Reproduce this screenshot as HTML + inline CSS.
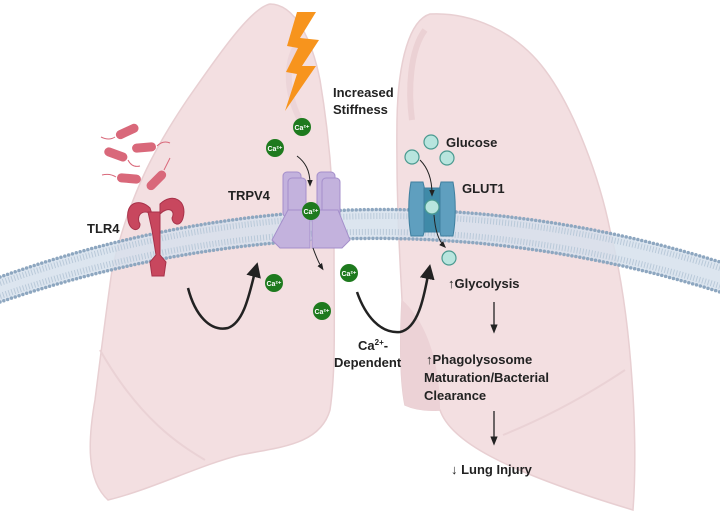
<!DOCTYPE html>
<html><head><meta charset="utf-8"><style>
html,body{margin:0;padding:0;background:#fff}
svg{display:block}
text{font-family:"Liberation Sans",sans-serif;font-weight:bold;fill:#222}
</style></head><body>
<svg width="720" height="514" viewBox="0 0 720 514" xmlns="http://www.w3.org/2000/svg">
<defs>
<marker id="ah" viewBox="0 0 10 10" refX="6" refY="5" markerWidth="6" markerHeight="6" orient="auto"><path d="M0,0 L10,5 L0,10 z" fill="#222"/></marker>
<marker id="ahs" viewBox="0 0 10 10" refX="6" refY="5" markerWidth="7" markerHeight="7" orient="auto"><path d="M0,1 L10,5 L0,9 z" fill="#222"/></marker>
</defs>
<!-- left lung -->
<path d="M270,4 C250,8 215,60 187,100 C160,140 130,190 112,270 C105,320 100,360 95,400 C88,440 86,480 108,500 C150,490 200,465 240,455 C280,447 320,445 330,410 C336,370 334,320 334,250 C334,200 330,140 320,80 C312,40 295,4 270,4 Z" fill="#f3dfe1" stroke="#e8cfd2" stroke-width="1.5"/>
<path d="M100,350 C140,420 180,445 205,460" fill="none" stroke="#ead2d5" stroke-width="2"/>
<path d="M300,40 C285,60 285,90 300,120" fill="none" stroke="#e8cfd3" stroke-width="6" opacity="0.6"/>
<!-- right lung -->
<path d="M430,14 C410,20 398,60 397,120 C396,200 400,260 402,300 C400,340 400,380 405,405 C420,412 437,410 440,410 C450,440 500,470 633,510 C636,470 635,420 632,380 C628,320 620,270 610,230 C600,180 575,110 545,70 C515,30 470,12 430,14 Z" fill="#f3dfe1" stroke="#e8cfd2" stroke-width="1.5"/>
<path d="M402,300 C425,320 440,360 440,410 C430,412 415,410 405,405 C400,380 400,340 402,300 Z" fill="#ecd2d6"/>
<path d="M503,435 C540,420 580,400 625,370" fill="none" stroke="#ead2d5" stroke-width="2"/>
<path d="M425,30 C410,50 408,90 412,120" fill="none" stroke="#e6c8cc" stroke-width="6" opacity="0.6"/>
<!-- membrane -->
<path d="M0,277 Q360,150 720,262 L720,292 Q360,180 0,302 Z" fill="#d6e1ec" opacity="0.85"/>
<path d="M0,283 Q360,157 720,268" fill="none" stroke="#b9c9d9" stroke-width="6" stroke-dasharray="1 2"/>
<path d="M0,296 Q360,173 720,286" fill="none" stroke="#b9c9d9" stroke-width="6" stroke-dasharray="1 2"/>
<path d="M0,277 Q360,150 720,262" fill="none" stroke="#8ea7c0" stroke-width="3.5" stroke-linecap="round" stroke-dasharray="0 4"/>
<path d="M0,302 Q360,180 720,292" fill="none" stroke="#8ea7c0" stroke-width="3.5" stroke-linecap="round" stroke-dasharray="0 4"/>
<!-- lightning -->
<polygon points="297,12 316,12 300,38 319,40 302,66 316,66 285,111 297,74 286,72 298,48 287,46" fill="#f7941d"/>
<text x="333" y="97" font-size="13">Increased</text>
<text x="333" y="114" font-size="13">Stiffness</text>
<!-- bacteria -->
<g fill="#d9687a" stroke="none">
<rect x="115" y="127" width="24" height="9" rx="4.5" transform="rotate(-25 127 131)"/>
<rect x="104" y="150" width="24" height="9" rx="4.5" transform="rotate(20 116 154)"/>
<rect x="132" y="143" width="24" height="9" rx="4.5" transform="rotate(-5 144 147)"/>
<rect x="117" y="174" width="24" height="9" rx="4.5" transform="rotate(5 129 178)"/>
<rect x="144" y="176" width="24" height="9" rx="4.5" transform="rotate(-45 156 180)"/>
</g>
<g fill="none" stroke="#d9687a" stroke-width="1">
<path d="M115,137 q-6,4 -14,0"/><path d="M157,146 q6,-6 13,-3"/><path d="M128,160 q4,8 12,6"/><path d="M116,177 q-6,-4 -14,-2"/><path d="M164,170 q3,-6 6,-12"/>
</g>
<!-- TLR4 -->
<g fill="#c8475e" stroke="#a8324a" stroke-width="1">
<path d="M150,208 C140,198 125,202 128,220 C130,232 140,232 140,224 C136,218 140,208 152,214 Z"/>
<path d="M160,204 C172,192 188,200 183,218 C180,228 172,224 172,218 C176,210 168,206 160,214 Z"/>
<path d="M148,212 L160,212 L160,255 L166,262 L164,276 L152,276 L150,262 L156,255 L152,230 Z"/>
</g>
<text x="87" y="233" font-size="13">TLR4</text>
<!-- TRPV4 -->
<g fill="#c3b2dd" stroke="#a48fcb" stroke-width="1">
<rect x="283" y="172" width="18" height="45" rx="4"/>
<rect x="317" y="172" width="18" height="45" rx="4"/>
<rect x="288" y="178" width="18" height="45" rx="4"/>
<rect x="322" y="178" width="18" height="45" rx="4"/>
<path d="M288,210 L310,210 L310,248 L280,248 L272,240 Z"/>
<path d="M312,210 L338,210 L350,240 L342,248 L312,248 Z"/>
</g>
<text x="228" y="200" font-size="13">TRPV4</text>
<!-- Ca -->
<g>
<g><circle cx="302" cy="127" r="9" fill="#1e7a1e"/><text x="302" y="130" text-anchor="middle" style="fill:#fff;font-size:7px">Ca²⁺</text></g>
<g><circle cx="275" cy="148" r="9" fill="#1e7a1e"/><text x="275" y="151" text-anchor="middle" style="fill:#fff;font-size:7px">Ca²⁺</text></g>
<g><circle cx="311" cy="211" r="9" fill="#1e7a1e"/><text x="311" y="214" text-anchor="middle" style="fill:#fff;font-size:7px">Ca²⁺</text></g>
<g><circle cx="274" cy="283" r="9" fill="#1e7a1e"/><text x="274" y="286" text-anchor="middle" style="fill:#fff;font-size:7px">Ca²⁺</text></g>
<g><circle cx="349" cy="273" r="9" fill="#1e7a1e"/><text x="349" y="276" text-anchor="middle" style="fill:#fff;font-size:7px">Ca²⁺</text></g>
<g><circle cx="322" cy="311" r="9" fill="#1e7a1e"/><text x="322" y="314" text-anchor="middle" style="fill:#fff;font-size:7px">Ca²⁺</text></g>
</g>
<path d="M297,156 C305,162 310,170 310,184" fill="none" stroke="#222" stroke-width="1" marker-end="url(#ahs)"/>
<path d="M313,248 C316,256 318,262 322,268" fill="none" stroke="#222" stroke-width="1" marker-end="url(#ahs)"/>
<!-- GLUT1 -->
<g fill="#5f9fbf" stroke="#3f7f9f" stroke-width="1">
<path d="M411,182 L423,182 L426,195 L426,225 L423,236 L411,236 C408,220 408,198 411,182 Z"/>
<path d="M453,182 L441,182 L438,195 L438,225 L441,236 L453,236 C456,220 456,198 453,182 Z"/>
<rect x="424" y="188" width="16" height="44" fill="#3f8aa8"/>
</g>
<g fill="#b8e5de" stroke="#4a9a90" stroke-width="1.2">
<circle cx="431" cy="142" r="7"/><circle cx="412" cy="157" r="7"/><circle cx="447" cy="158" r="7"/><circle cx="432" cy="207" r="7"/><circle cx="449" cy="258" r="7"/>
</g>
<path d="M420,160 C428,168 432,180 432,194" fill="none" stroke="#222" stroke-width="1" marker-end="url(#ahs)"/>
<path d="M434,215 C435,228 438,240 444,246" fill="none" stroke="#222" stroke-width="1" marker-end="url(#ahs)"/>
<text x="446" y="147" font-size="13">Glucose</text>
<text x="462" y="193" font-size="13">GLUT1</text>
<!-- big arrows -->
<path d="M188,288 C195,315 210,332 228,328 C245,322 250,290 256,268" fill="none" stroke="#222" stroke-width="2.5" marker-end="url(#ah)"/>
<path d="M357,292 C365,315 380,334 400,332 C420,328 425,290 429,270" fill="none" stroke="#222" stroke-width="2.5" marker-end="url(#ah)"/>
<text x="358" y="350" font-size="13">Ca<tspan font-size="8" dy="-5">2+</tspan><tspan dy="5">-</tspan></text>
<text x="334" y="367" font-size="13">Dependent</text>
<!-- right text chain -->
<text x="448" y="288" font-size="13">↑Glycolysis</text>
<line x1="494" y1="302" x2="494" y2="330" stroke="#222" stroke-width="1.3" marker-end="url(#ahs)"/>
<text x="426" y="364" font-size="13">↑Phagolysosome</text>
<text x="424" y="382" font-size="13">Maturation/Bacterial</text>
<text x="424" y="400" font-size="13">Clearance</text>
<line x1="494" y1="411" x2="494" y2="442" stroke="#222" stroke-width="1.3" marker-end="url(#ahs)"/>
<text x="451" y="474" font-size="13">↓ Lung Injury</text>
</svg>
</body></html>
